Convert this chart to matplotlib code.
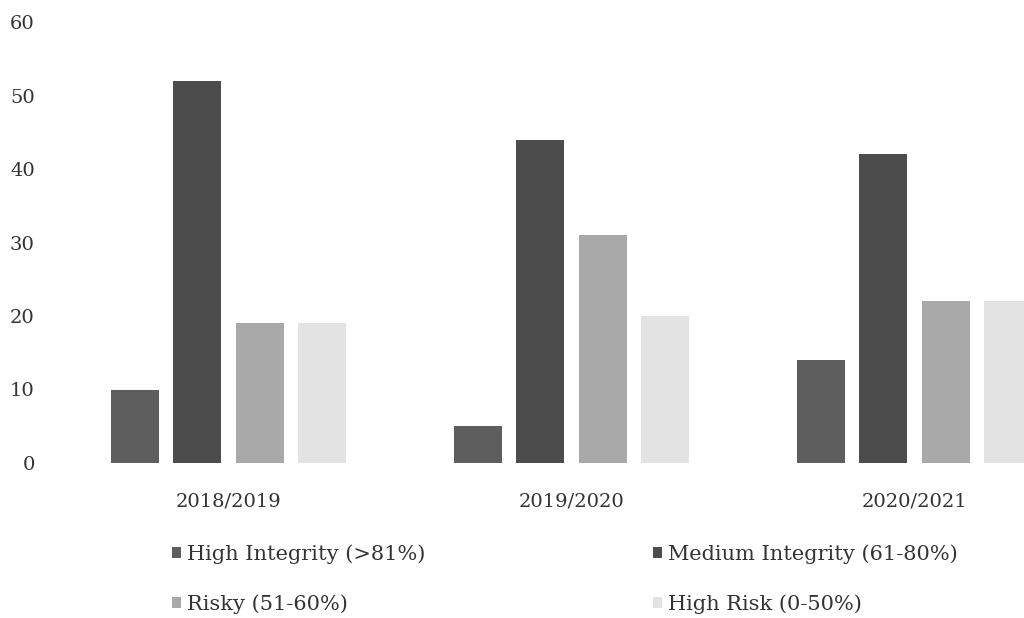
import matplotlib
matplotlib.use("Agg")
import matplotlib.pyplot as plt
import numpy as np

categories = ["2018/2019", "2019/2020", "2020/2021"]
series_names = ["High Integrity (>81%)", "Medium Integrity (61-80%)", "Risky (51-60%)", "High Risk (0-50%)"]
high_integrity = [10, 5, 14]
medium_integrity = [52, 44, 42]
risky = [19, 31, 22]
high_risk = [19, 20, 22]
y_ticks = [0, 10, 20, 30, 40, 50, 60]

colors = ["#5e5e5e", "#4c4c4c", "#a9a9a9", "#e3e3e3"]
series = [high_integrity, medium_integrity, risky, high_risk]

plt.rcParams['font.family'] = ['DejaVu Serif']
fig = plt.figure(figsize=(10.24, 6.18), dpi=100)
L = 57 / 1024
R = 1086 / 1024
B = (618 - 463) / 618
T = (618 - 22) / 618
ax = fig.add_axes([L, B, R - L, T - B])

x = np.arange(len(categories))
width = 0.14
step = 0.182
handles = []
for i, (vals, c) in enumerate(zip(series, colors)):
    h = ax.bar(x + (i - 1.5) * step, vals, width, color=c, label=series_names[i])
    handles.append(h)

ax.set_xlim(-0.5, 2.5)
ax.set_ylim(0, 60)
ax.set_yticks(y_ticks)
ax.set_xticks(x)
ax.set_xticklabels(categories)
for s in ax.spines.values():
    s.set_visible(False)
ax.tick_params(axis='both', length=0, labelsize=14, colors="#333333")
ax.tick_params(axis='x', pad=21)
ax.tick_params(axis='y', pad=16)

order = [0, 2, 1, 3]
leg = fig.legend([handles[i] for i in order], [series_names[i] for i in order],
                 ncol=2, loc='center', bbox_to_anchor=(565 / 1024, 1 - 579 / 618),
                 frameon=False, fontsize=15, handlelength=0.45, handleheight=0.45,
                 handletextpad=0.3, columnspacing=10.9, labelspacing=1.45,
                 labelcolor="#333333")

fig.savefig("out.png", dpi=100)
